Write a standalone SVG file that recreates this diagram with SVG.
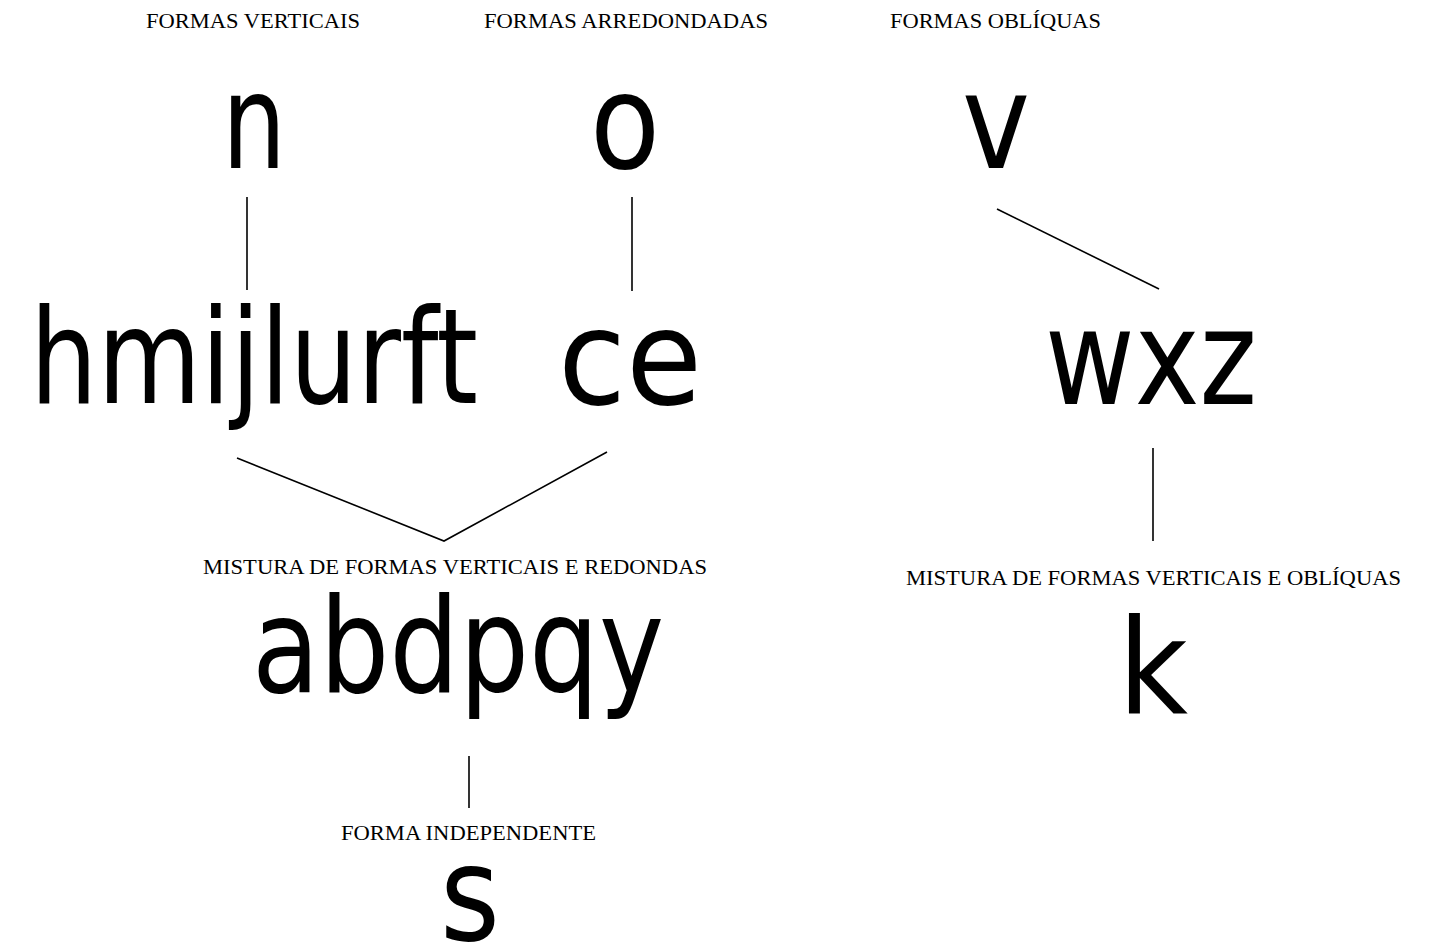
<svg xmlns="http://www.w3.org/2000/svg" width="1444" height="945" viewBox="0 0 1444 945">
<style>
.lbl{font-family:"Liberation Serif","Times New Roman",serif;font-size:22px;fill:#000}
.gl{font-family:"DejaVu Sans Condensed","DejaVu Sans",sans-serif;font-stretch:condensed;font-size:132px;fill:#000}
.ln{stroke:#000;stroke-width:1.6;fill:none}
</style>
<rect width="1444" height="945" fill="#fff"/>
<g id="labels">
<text class="lbl" x="146" y="28" textLength="214" lengthAdjust="spacingAndGlyphs">FORMAS VERTICAIS</text>
<text class="lbl" x="484" y="28" textLength="284" lengthAdjust="spacingAndGlyphs">FORMAS ARREDONDADAS</text>
<text class="lbl" x="890" y="28" textLength="211" lengthAdjust="spacingAndGlyphs">FORMAS OBLÍQUAS</text>
<text class="lbl" x="203" y="574" textLength="504" lengthAdjust="spacingAndGlyphs">MISTURA DE FORMAS VERTICAIS E REDONDAS</text>
<text class="lbl" x="906" y="585" textLength="495" lengthAdjust="spacingAndGlyphs">MISTURA DE FORMAS VERTICAIS E OBLÍQUAS</text>
<text class="lbl" x="341" y="840" textLength="255" lengthAdjust="spacingAndGlyphs">FORMA INDEPENDENTE</text>
</g>
<g id="node-n"><text class="gl" x="222" y="168" textLength="64" lengthAdjust="spacingAndGlyphs">n</text></g>
<g id="node-o"><text class="gl" x="590" y="168" textLength="70" lengthAdjust="spacingAndGlyphs">o</text></g>
<g id="node-v"><text class="gl" x="962" y="168" textLength="68" lengthAdjust="spacingAndGlyphs">v</text></g>
<g id="node-hmijlurft"><text class="gl" x="30" y="403" textLength="448" lengthAdjust="spacingAndGlyphs">hmijlurft</text></g>
<g id="node-ce"><text class="gl" x="558" y="404" textLength="144" lengthAdjust="spacingAndGlyphs">ce</text></g>
<g id="node-wxz"><text class="gl" x="1045" y="404" textLength="212" lengthAdjust="spacingAndGlyphs">wxz</text></g>
<g id="node-abdpqy"><text class="gl" x="252" y="692" textLength="412" lengthAdjust="spacingAndGlyphs">abdpqy</text></g>
<g id="node-k"><text class="gl" x="1118" y="713" textLength="70" lengthAdjust="spacingAndGlyphs">k</text></g>
<g id="node-s"><text class="gl" x="440" y="940" textLength="60" lengthAdjust="spacingAndGlyphs">s</text></g>
<g id="connectors">
<line class="ln" x1="247" y1="197" x2="247" y2="290"/>
<line class="ln" x1="632" y1="197" x2="632" y2="291"/>
<line class="ln" x1="997" y1="209" x2="1159" y2="289"/>
<polyline class="ln" points="237,458 444,541 607,452"/>
<line class="ln" x1="1153" y1="448" x2="1153" y2="541"/>
<line class="ln" x1="469" y1="756" x2="469" y2="808"/>
</g>
</svg>
